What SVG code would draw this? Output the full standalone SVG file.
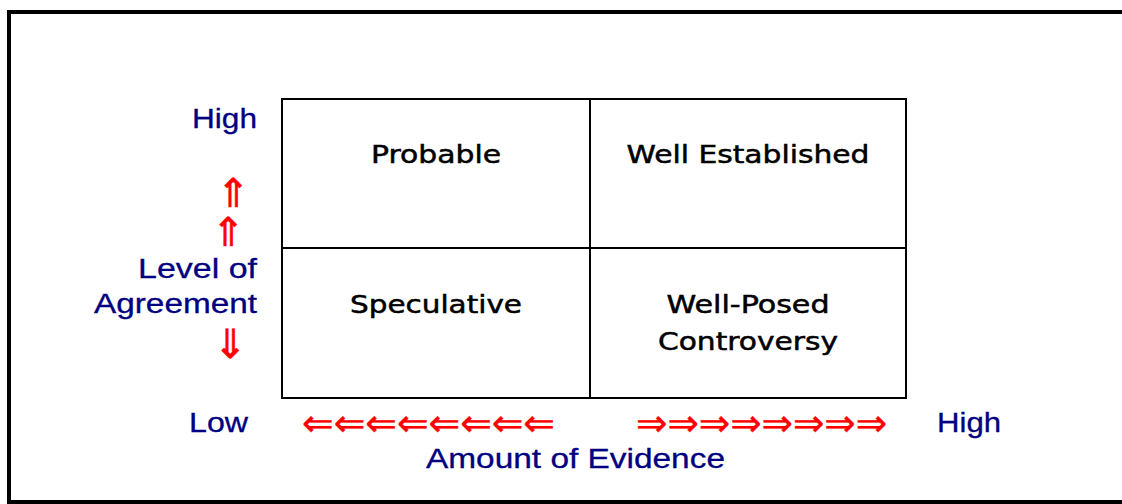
<svg xmlns="http://www.w3.org/2000/svg" width="1122" height="504" viewBox="0 0 1122 504">
<style>
.lbl{font-family:"Liberation Sans",Arial,sans-serif;font-size:27px;fill:#000080;stroke:#000080;stroke-width:0.3}
.cell{font-family:"DejaVu Sans",sans-serif;font-size:24px;fill:#000;stroke:#000;stroke-width:0.5;text-anchor:middle}
.varr{font-family:"DejaVu Sans",sans-serif;font-size:40px;fill:#ff0000;stroke:#ff0000;stroke-width:0.6;text-anchor:middle}
.harr{font-family:"DejaVu Sans",sans-serif;font-size:37px;fill:#ff0000;stroke:#ff0000;stroke-width:0.4}
.box{fill:none;stroke:#000;stroke-width:2}
</style>
<rect width="1122" height="504" fill="#fff"/>
<rect x="9" y="12" width="1130" height="490" fill="none" stroke="#000" stroke-width="4"/>
<g id="grid">
<rect class="box" x="282" y="99" width="624" height="299"/>
<line x1="590" y1="99" x2="590" y2="398" stroke="#000" stroke-width="2"/>
<line x1="282" y1="248" x2="906" y2="248" stroke="#000" stroke-width="2"/>
</g>
<g id="probable"><text class="cell" x="436" y="163" textLength="130" lengthAdjust="spacingAndGlyphs">Probable</text></g>
<g id="well-established"><text class="cell" x="748" y="163" textLength="243" lengthAdjust="spacingAndGlyphs">Well Established</text></g>
<g id="speculative"><text class="cell" x="436" y="313" textLength="172" lengthAdjust="spacingAndGlyphs">Speculative</text></g>
<g id="well-posed"><text class="cell" x="748" y="313" textLength="163" lengthAdjust="spacingAndGlyphs">Well-Posed</text><text class="cell" x="748" y="350" textLength="180" lengthAdjust="spacingAndGlyphs">Controversy</text></g>
<g id="axis-labels">
<text class="lbl" x="192" y="128" textLength="65" lengthAdjust="spacingAndGlyphs">High</text>
<text class="lbl" x="138" y="278" textLength="119" lengthAdjust="spacingAndGlyphs">Level of</text>
<text class="lbl" x="94" y="313" textLength="163" lengthAdjust="spacingAndGlyphs">Agreement</text>
<text class="lbl" x="189" y="432" textLength="59" lengthAdjust="spacingAndGlyphs">Low</text>
<text class="lbl" x="937" y="432" textLength="64" lengthAdjust="spacingAndGlyphs">High</text>
<text class="lbl" x="426" y="468" textLength="299" lengthAdjust="spacingAndGlyphs">Amount of Evidence</text>
</g>
<g id="connectors">
<text class="varr" x="233" y="207">⇑</text>
<text class="varr" x="228" y="246">⇑</text>
<text class="varr" x="230" y="358">⇓</text>
<text class="harr" x="302" y="436" textLength="253" lengthAdjust="spacingAndGlyphs">⇐⇐⇐⇐⇐⇐⇐⇐</text>
<text class="harr" x="636" y="436" textLength="251" lengthAdjust="spacingAndGlyphs">⇒⇒⇒⇒⇒⇒⇒⇒</text>
</g>
</svg>
